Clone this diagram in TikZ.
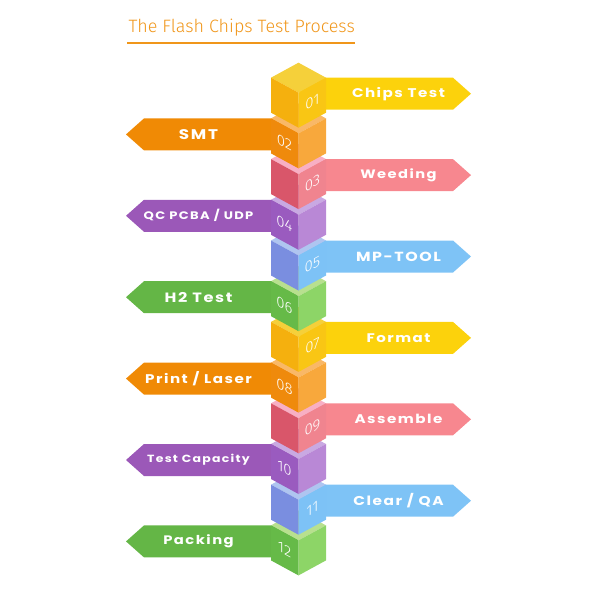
\documentclass[tikz,border=0pt]{standalone}
\usepackage{fontspec}
\setmainfont{Poppins}
\newfontfamily\labelfont{Poppins}[LetterSpace=10]
\newfontfamily\titlefont{Fira Sans Light}
\usetikzlibrary{calc}

\definecolor{titleorange}{HTML}{F0961A}
% colour sets: top face, left face, right face, arrow
\definecolor{top1}{HTML}{F5D03A}\definecolor{left1}{HTML}{F5B00E}\definecolor{right1}{HTML}{F9C614}\definecolor{arw1}{HTML}{FCD20C}
\definecolor{top2}{HTML}{F9B867}\definecolor{left2}{HTML}{EF8A0C}\definecolor{right2}{HTML}{F8A83C}\definecolor{arw2}{HTML}{F08A05}
\definecolor{top3}{HTML}{F8AFC4}\definecolor{left3}{HTML}{D9566A}\definecolor{right3}{HTML}{F0848F}\definecolor{arw3}{HTML}{F7878F}
\definecolor{top4}{HTML}{C9A9E2}\definecolor{left4}{HTML}{9A5BBF}\definecolor{right4}{HTML}{B988D6}\definecolor{arw4}{HTML}{9B58B8}
\definecolor{top5}{HTML}{AFC5F0}\definecolor{left5}{HTML}{7A8EE0}\definecolor{right5}{HTML}{7DC2F6}\definecolor{arw5}{HTML}{7EC3F6}
\definecolor{top6}{HTML}{B8E08F}\definecolor{left6}{HTML}{66BA48}\definecolor{right6}{HTML}{8DD567}\definecolor{arw6}{HTML}{64B646}

\begin{document}
\begin{tikzpicture}[
    x=1pt, y=-1pt,
    title text/.style={font=\titlefont\fontsize{17.9}{17.9}\selectfont, text=titleorange},
    step label/.style={text=white, inner sep=0pt, xscale=1.2},
    step number/.style={font=\titlefont\fontsize{15}{15}\selectfont, text=white, inner sep=0pt}
  ]
    \useasboundingbox (0,0) rectangle (600,600);

    % 1. Title
    \node[title text, anchor=west] (title) at (125,28) {The Flash Chips Test Process};
    \coordinate (ul1) at (127,43);
    \coordinate (ul2) at (355,43);
    \draw[titleorange, line width=1.5pt] (ul1) -- (ul2);

    % 2. Arrows and labels
    \foreach \i/\txt/\fs in {1/Chips Test/12.6, 2/SMT/14, 3/Weeding/12.2, 4/{QC PCBA / UDP}/10.9,
        5/MP-TOOL/13.2, 6/H2 Test/13.5, 7/Format/12.5, 8/{Print / Laser}/12.6,
        9/Assemble/12.6, 10/Test Capacity/10.4, 11/{Clear / QA}/12.8, 12/Packing/12.3} {
        \pgfmathsetmacro\yc{77.7+(\i-1)*40.7}
        \pgfmathtruncatemacro\k{mod(\i-1,6)+1}
        \ifodd\i
            \fill[arw\k] (300,\yc) -- (453,\yc) -- (471,\yc+16) -- (453,\yc+32) -- (300,\yc+32) -- cycle;
            \node[step label, font=\labelfont\bfseries\fontsize{\fs}{\fs}\selectfont] (lab\i) at (398.5,\yc+16) {\txt};
        \else
            \fill[arw\k] (297,\yc) -- (144,\yc) -- (126,\yc+16) -- (144,\yc+32) -- (297,\yc+32) -- cycle;
            \node[step label, font=\labelfont\bfseries\fontsize{\fs}{\fs}\selectfont] (lab\i) at (198.5,\yc+16) {\txt};
        \fi
    }

    % 3. Cubes, bottom one first
    \foreach \i in {12,...,1} {
        \pgfmathsetmacro\yc{77.7+(\i-1)*40.7}
        \pgfmathtruncatemacro\k{mod(\i-1,6)+1}
        \fill[top\k] (298.5,\yc-15) -- (326,\yc) -- (298.5,\yc+15) -- (271,\yc) -- cycle;
        \fill[left\k] (271,\yc) -- (298.5,\yc+15) -- (298.5,\yc+50) -- (271,\yc+35) -- cycle;
        \fill[right\k] (326,\yc) -- (298.5,\yc+15) -- (298.5,\yc+50) -- (326,\yc+35) -- cycle;
        \ifodd\i
            \node[step number, yslant=0.545] (num\i) at (312.5,\yc+24) {\ifnum\i<10 0\fi\i};
        \else
            \node[step number, yslant=-0.545] (num\i) at (284.5,\yc+24) {\ifnum\i<10 0\fi\i};
        \fi
    }

  \end{tikzpicture}
\end{document}
